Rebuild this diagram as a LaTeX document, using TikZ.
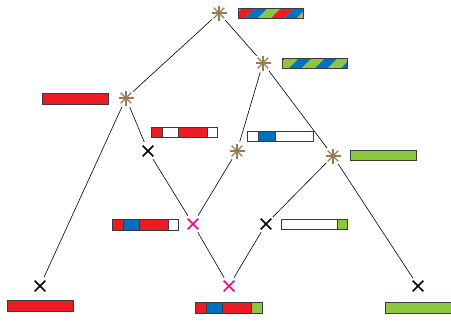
\documentclass[tikz,border=0pt]{standalone}
\definecolor{bred}{HTML}{ED1C24}
\definecolor{bblue}{HTML}{0071BC}
\definecolor{bgreen}{HTML}{8CC63F}
\definecolor{starbrown}{HTML}{9A7A4E}
\definecolor{xpink}{HTML}{EC008C}
\definecolor{barline}{HTML}{3A3A3A}
\begin{document}
\begin{tikzpicture}[x=1pt,y=-1pt,
  edge/.style={line width=0.6pt, black},
  starmark/.style={circle, inner sep=0pt, minimum size=19pt,
    path picture={\foreach \a in {0,45,90,135}
      \draw[starbrown, line width=1.4pt] (path picture bounding box.center) ++(\a:7.5) -- ++(\a+180:15);}},
  crossmark/.style={circle, inner sep=0pt, minimum size=19pt,
    path picture={\foreach \a in {45,135}
      \draw[#1, line width=1.6pt] (path picture bounding box.center) ++(\a:7.5) -- ++(\a+180:15);}},
  crossmark/.default=black,
  barframe/.style={draw=barline, line width=0.8pt}
]
\useasboundingbox (0,0) rectangle (451,325);

% tree vertices
\node[starmark] (t)  at (219,13)  {};
\node[starmark] (r)  at (263,63)  {};
\node[starmark] (l)  at (126,98)  {};
\node[crossmark] (lx) at (148,151) {};
\node[starmark] (m)  at (237,151) {};
\node[starmark] (g)  at (333,156) {};
\node[crossmark=xpink] (p1) at (193,224) {};
\node[crossmark] (gx) at (266,224) {};
\node[crossmark=xpink] (p2) at (229,286) {};
\node[crossmark] (bl) at (40,286)  {};
\node[crossmark] (br) at (418,286) {};

% branches
\draw[edge] (t) -- (l);
\draw[edge] (t) -- (r);
\draw[edge] (r) -- (m);
\draw[edge] (r) -- (g);
\draw[edge] (l) -- (bl);
\draw[edge] (l) -- (lx);
\draw[edge] (lx) -- (p1);
\draw[edge] (m) -- (p1);
\draw[edge] (g) -- (gx);
\draw[edge] (g) -- (br);
\draw[edge] (p1) -- (p2);
\draw[edge] (gx) -- (p2);

% striped bar: red / blue / green
\begin{scope}
  \clip (238,8) rectangle (303,18);
  \foreach \x/\col in {206/bblue, 219/bgreen, 232/bred, 245/bblue, 258/bgreen,
                       271/bred, 284/bblue, 297/bgreen}
    \fill[\col] (\x,18) -- (\x+13,18) -- (\x+23,8) -- (\x+10,8) -- cycle;
\end{scope}
\draw[barframe] (238,8) rectangle (303,18);

% striped bar: green / blue
\begin{scope}
  \clip (282,58) rectangle (347,68);
  \foreach \x/\col in {250/bgreen, 263/bblue, 276/bgreen, 289/bblue, 302/bgreen,
                       315/bblue, 328/bgreen, 341/bblue}
    \fill[\col] (\x,68) -- (\x+13,68) -- (\x+23,58) -- (\x+10,58) -- cycle;
\end{scope}
\draw[barframe] (282,58) rectangle (347,68);

% plain bars
\draw[barframe, fill=bred] (42,93) rectangle (108,104);
\draw[barframe, fill=bgreen] (350,150) rectangle (416,160);
\draw[barframe, fill=bred] (7,300) rectangle (73,311);
\draw[barframe, fill=bgreen] (385,302) rectangle (451,313);

% segmented bars
\fill[white] (151,127) rectangle (217,137);
\fill[bred] (151,127) rectangle (162,137);
\fill[bred] (178,127) rectangle (207,137);
\draw[barframe] (151,127) rectangle (217,137)
  (162,127) -- (162,137) (178,127) -- (178,137) (207,127) -- (207,137);

\fill[white] (247,131) rectangle (313,141);
\fill[bblue] (258,131) rectangle (275,141);
\draw[barframe] (247,131) rectangle (313,141)
  (258,131) -- (258,141) (275,131) -- (275,141);

\fill[white] (112,219) rectangle (178,230);
\fill[bred] (112,219) rectangle (123,230);
\fill[bblue] (123,219) rectangle (139,230);
\fill[bred] (139,219) rectangle (168,230);
\draw[barframe] (112,219) rectangle (178,230)
  (123,219) -- (123,230) (139,219) -- (139,230) (168,219) -- (168,230);

\fill[white] (281,219) rectangle (347,229);
\fill[bgreen] (337,219) rectangle (347,229);
\draw[barframe] (281,219) rectangle (347,229) (337,219) -- (337,229);

\fill[bred] (195,302) rectangle (206,313);
\fill[bblue] (206,302) rectangle (222,313);
\fill[bred] (222,302) rectangle (251,313);
\fill[bgreen] (251,302) rectangle (262,313);
\draw[barframe] (195,302) rectangle (262,313)
  (206,302) -- (206,313) (222,302) -- (222,313) (251,302) -- (251,313);
\end{tikzpicture}
\end{document}
